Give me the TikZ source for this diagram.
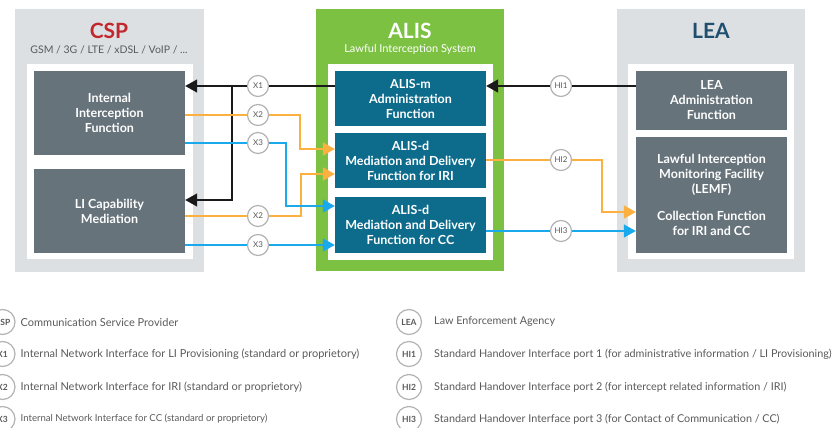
\documentclass[tikz,border=0pt]{standalone}
\usepackage{fontspec}
\setmainfont{Lato}
\usetikzlibrary{arrows.meta,calc}
\definecolor{panelgrey}{HTML}{DCE0E3}
\definecolor{boxgrey}{HTML}{67737A}
\definecolor{alisblue}{HTML}{0D6B8C}
\definecolor{alisgreen}{HTML}{7DC143}
\definecolor{cspred}{HTML}{C1272D}
\definecolor{leablue}{HTML}{1F4E6E}
\definecolor{orn}{HTML}{FBB040}
\definecolor{blu}{HTML}{1BA9EE}
\definecolor{blk}{HTML}{1A1A1A}
\definecolor{portgrey}{HTML}{B3B3B3}
\definecolor{textgrey}{HTML}{5A5A5A}
\begin{document}
\begin{tikzpicture}[x=1pt,y=-1pt,
fbox/.style={fill=boxgrey,text=white,align=center,inner sep=0pt,minimum width=151pt,font=\fontsize{12.5}{15}\selectfont\bfseries},
abox/.style={fbox,fill=alisblue},
port/.style={circle,draw=portgrey,line width=1.2pt,fill=white,minimum size=21pt,inner sep=0pt,text=textgrey,font=\fontsize{8}{9}\selectfont},
key/.style={circle,draw=portgrey,line width=1.2pt,fill=white,minimum size=25pt,inner sep=0pt,text=textgrey,font=\fontsize{8.5}{9}\selectfont\bfseries},
keytext/.style={anchor=west,inner sep=0pt,text=textgrey,font=\fontsize{11}{12}\selectfont},
wire/.style={line width=1.5pt},
tip/.style={-{Triangle[length=12pt,width=13pt]}}]
\useasboundingbox (0,0) rectangle (838,428);
\fill[panelgrey] (15,9) rectangle (204,272);
\fill[white] (27,64) rectangle (193,259);
\fill[alisgreen] (316,9) rectangle (504,271);
\fill[white] (328,64) rectangle (493,260);
\fill[panelgrey] (617,9) rectangle (805,272);
\fill[white] (628,64) rectangle (794,259);
\node[font=\fontsize{21}{22}\selectfont\bfseries,text=cspred] (csptitle) at (109,31) {CSP};
\node[font=\fontsize{10.5}{11}\selectfont,text=textgrey] (cspsub) at (109,50) {GSM / 3G / LTE / xDSL / VoIP / ...};
\node[font=\fontsize{21}{22}\selectfont\bfseries,text=white] (alistitle) at (410,31) {ALIS};
\node[font=\fontsize{11}{12}\selectfont,text=white] (alissub) at (410,49) {Lawful Interception System};
\node[font=\fontsize{21}{22}\selectfont\bfseries,text=leablue] (leatitle) at (711,31) {LEA};
\node[fbox,minimum height=84pt] (iif) at (109.5,113) {Internal\\Interception\\Function};
\node[fbox,minimum height=84pt] (licm) at (109.5,211) {LI Capability\\Mediation};
\node[abox,minimum height=55pt] (alism) at (410.5,98.5) {ALIS-m\\Administration\\Function};
\node[abox,minimum height=55pt] (aliri) at (410.5,160.5) {ALIS-d\\Mediation and Delivery\\Function for IRI};
\node[abox,minimum height=56pt] (alcc) at (410.5,225) {ALIS-d\\Mediation and Delivery\\Function for CC};
\node[fbox,minimum height=59pt] (leaadm) at (711.5,100.5) {LEA\\Administration\\Function};
\node[fbox,minimum height=116pt] (lemf) at (711.5,195) {Lawful Interception\\Monitoring Facility\\(LEMF)\\[12pt]Collection Function\\for IRI and CC};
\node[port] (x1) at (258,86) {X1};
\node[port] (x2a) at (258,115) {X2};
\node[port] (x3a) at (258,143) {X3};
\node[port] (x2b) at (258,216) {X2};
\node[port] (x3b) at (258,245) {X3};
\node[port] (hi1) at (561,86) {HI1};
\node[port] (hi2) at (561,160) {HI2};
\node[port] (hi3) at (561,231) {HI3};
\coordinate (j1) at ($(x1)+(-26,0)$);
\draw[wire,blk] (alism.west |- x1) -- (x1);
\draw[wire,blk,tip] (x1) -- (iif.east |- x1);
\draw[wire,blk,tip] (j1) |- ($(licm.east)+(0,-11)$);
\draw[wire,orn] (iif.east |- x2a) -- (x2a);
\draw[wire,orn,tip] (x2a) -- ++(42,0) |- ($(aliri.west)+(0,-11.5)$);
\draw[wire,orn] (licm.east |- x2b) -- (x2b);
\draw[wire,orn,tip] (x2b) -- ++(43,0) |- ($(aliri.west)+(0,13.5)$);
\draw[wire,blu] (iif.east |- x3a) -- (x3a);
\draw[wire,blu,tip] (x3a) -- ++(28,0) |- ($(alcc.west)+(0,-19)$);
\draw[wire,blu] (licm.east |- x3b) -- (x3b);
\draw[wire,blu,tip] (x3b) -- (alcc.west |- x3b);
\draw[wire,blk] (leaadm.west |- hi1) -- (hi1);
\draw[wire,blk,tip] (hi1) -- (alism.east |- hi1);
\draw[wire,orn] (aliri.east |- hi2) -- (hi2);
\draw[wire,orn,tip] (hi2) -- ++(41,0) |- ($(lemf.west)+(0,17)$);
\draw[wire,blu] (alcc.east |- hi3) -- (hi3);
\draw[wire,blu,tip] (hi3) -- (lemf.west |- hi3);
\node[key] (kcsp) at (2.5,322) {CSP};
\node[keytext] (tcsp) at (20.5,322) {Communication Service Provider};
\node[key] (kx1) at (2.5,354) {X1};
\node[keytext] (tx1) at (20.5,354) {Internal Network Interface for LI Provisioning (standard or proprietory)};
\node[key] (kx2) at (2.5,387) {X2};
\node[keytext] (tx2) at (20.5,387) {Internal Network Interface for IRI (standard or proprietory)};
\node[key] (kx3) at (2.5,419) {X3};
\node[keytext,font=\fontsize{9.6}{10}\selectfont] (tx3) at (20.5,419) {Internal Network Interface for CC (standard or proprietory)};
\node[key] (klea) at (409,322) {LEA};
\node[keytext,font=\fontsize{10.8}{12}\selectfont] (tlea) at (434,322) {Law Enforcement Agency};
\node[key] (khi1) at (409,354) {HI1};
\node[keytext,font=\fontsize{10.8}{12}\selectfont] (thi1) at (434,354) {Standard Handover Interface port 1 (for administrative information / LI Provisioning)};
\node[key] (khi2) at (409,387) {HI2};
\node[keytext,font=\fontsize{10.8}{12}\selectfont] (thi2) at (434,387) {Standard Handover Interface port 2 (for intercept related information / IRI)};
\node[key] (khi3) at (409,419) {HI3};
\node[keytext,font=\fontsize{10.8}{12}\selectfont] (thi3) at (434,419) {Standard Handover Interface port 3 (for Contact of Communication / CC)};
\end{tikzpicture}
\end{document}
